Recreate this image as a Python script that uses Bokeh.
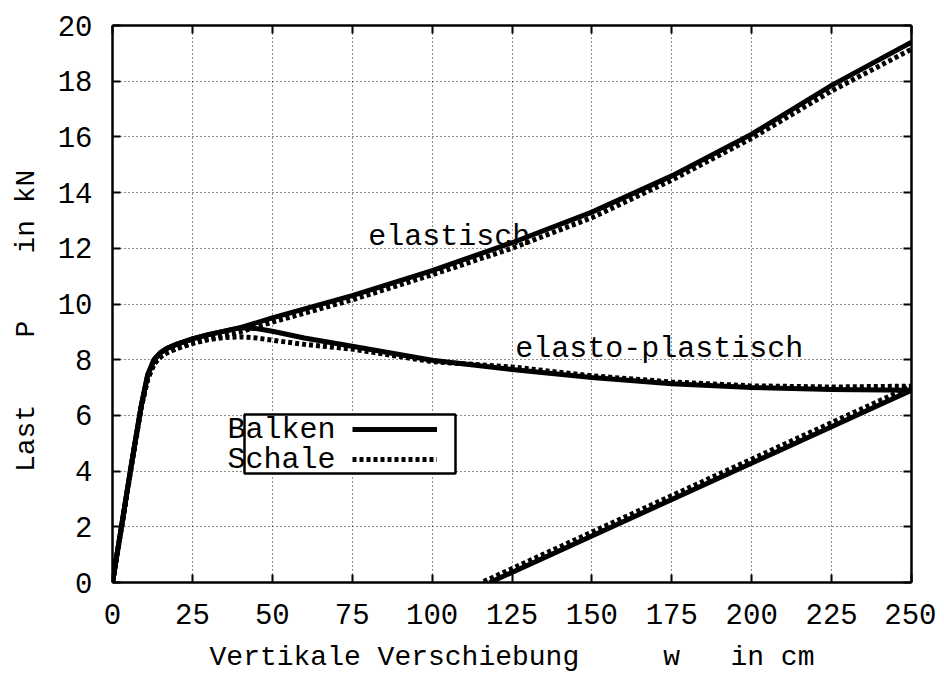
from bokeh.plotting import figure
from bokeh.models import (Range1d, FixedTicker, LinearAxis, Legend, LegendItem,
                          Label, BoxAnnotation)
from bokeh.embed import file_html
from bokeh.resources import INLINE

# ---------------- data ----------------
X_TICKS = [0, 25, 50, 75, 100, 125, 150, 175, 200, 225, 250]
Y_TICKS = [0, 2, 4, 6, 8, 10, 12, 14, 16, 18, 20]

# Balken (beam) - elastic
BALKEN_EL_W = [0, 3, 6, 9, 11, 13, 15, 17, 20, 25, 30, 40, 50, 75, 100, 125, 150, 175, 200, 225, 250]
BALKEN_EL_P = [0, 2.15, 4.3, 6.35, 7.45, 8.0, 8.25, 8.4, 8.55, 8.75, 8.9, 9.15, 9.5, 10.3, 11.2, 12.2, 13.3, 14.6, 16.1, 17.85, 19.4]

# Balken - elasto-plastic incl. unloading
BALKEN_PL_W = [0, 3, 6, 9, 11, 13, 15, 17, 20, 25, 30, 40, 45, 50, 60, 75, 100, 125, 150, 175, 200, 225, 250, 118]
BALKEN_PL_P = [0, 2.15, 4.3, 6.35, 7.45, 8.0, 8.25, 8.4, 8.55, 8.75, 8.9, 9.15, 9.12, 9.02, 8.78, 8.48, 7.98, 7.65, 7.36, 7.14, 7.0, 6.93, 6.9, 0]

# Schale (shell) - elastic
SCHALE_EL_W = [0, 3, 6, 9, 11, 13, 15, 17, 20, 25, 30, 40, 50, 75, 100, 125, 150, 175, 200, 225, 250]
SCHALE_EL_P = [0, 2.1, 4.25, 6.3, 7.3, 7.85, 8.1, 8.25, 8.4, 8.6, 8.75, 9.0, 9.35, 10.15, 11.05, 12.0, 13.1, 14.45, 15.95, 17.65, 19.15]

# Schale - elasto-plastic incl. unloading
SCHALE_PL_W = [0, 3, 6, 9, 11, 13, 15, 17, 20, 25, 30, 35, 40, 45, 50, 60, 75, 100, 125, 150, 175, 200, 225, 250, 115.5]
SCHALE_PL_P = [0, 2.1, 4.25, 6.3, 7.3, 7.85, 8.1, 8.25, 8.4, 8.58, 8.72, 8.8, 8.82, 8.78, 8.7, 8.55, 8.38, 7.93, 7.74, 7.42, 7.2, 7.06, 7.02, 7.05, 0]

SERIES_NAMES = ["Balken", "Schale"]
NB = "\u00a0"
X_LABEL = "Vertikale" + NB + "Verschiebung" + NB * 5 + "w" + NB * 3 + "in" + NB + "cm"
Y_LABEL = "Last" + NB * 4 + "P" + NB * 4 + "in" + NB + "kN" + NB * 2

FONT = "Liberation Mono"
FS_TICK = "29px"
FS_AXIS = "28px"
FS_TEXT = "30px"

p = figure(width=936, height=675, x_range=Range1d(0, 250), y_range=Range1d(0, 20),
           output_backend="svg", toolbar_location=None,
           min_border_left=112, min_border_right=25, min_border_top=25, min_border_bottom=93)
p.background_fill_color = "white"
p.border_fill_color = "white"
p.outline_line_color = None

# grid
p.xgrid.ticker = FixedTicker(ticks=X_TICKS)
p.ygrid.ticker = FixedTicker(ticks=Y_TICKS)
for g in (p.xgrid, p.ygrid):
    g.grid_line_color = "black"
    g.grid_line_dash = "1 3"
    g.grid_line_width = 1
    g.grid_line_alpha = 0.9


def style_axis(ax, ticks, show_labels=True):
    ax.ticker = FixedTicker(ticks=ticks)
    ax.axis_line_width = 2.5
    ax.axis_line_color = "black"
    ax.major_tick_in = 8
    ax.major_tick_out = 0
    ax.major_tick_line_width = 2
    ax.minor_tick_line_color = None
    ax.major_label_text_font = FONT
    if show_labels:
        ax.major_label_text_font_size = FS_TICK
        ax.major_label_text_color = "black"
    else:
        ax.major_label_text_font_size = "1px"
        ax.major_label_text_color = None
        ax.major_label_standoff = 0
    ax.axis_label_text_font = FONT
    ax.axis_label_text_font_size = FS_AXIS
    ax.axis_label_text_font_style = "normal"
    ax.axis_label_text_color = "black"


xa = p.xaxis[0]
ya = p.yaxis[0]
style_axis(xa, X_TICKS)
style_axis(ya, Y_TICKS)
xa.axis_label = X_LABEL
ya.axis_label = Y_LABEL
xa.major_label_standoff = 21
xa.axis_label_standoff = 15
ya.major_label_standoff = 20
ya.axis_label_standoff = 13

top_ax = LinearAxis()
style_axis(top_ax, X_TICKS, show_labels=False)
p.add_layout(top_ax, "above")
right_ax = LinearAxis()
style_axis(right_ax, Y_TICKS, show_labels=False)
p.add_layout(right_ax, "right")

# curves
r_b_el = p.line(BALKEN_EL_W, BALKEN_EL_P, line_width=5, line_color="black", line_join="miter")
r_b_pl = p.line(BALKEN_PL_W, BALKEN_PL_P, line_width=5, line_color="black", line_join="miter")
r_s_el = p.line(SCHALE_EL_W, SCHALE_EL_P, line_width=5, line_color="black", line_dash="4 3",
                line_join="miter")
r_s_pl = p.line(SCHALE_PL_W, SCHALE_PL_P, line_width=5, line_color="black", line_dash="4 3",
                line_join="miter")

# curve annotations
p.add_layout(Label(x=80, y=12.4, text="elastisch", text_font=FONT, text_font_size=FS_TEXT,
                   text_baseline="middle", text_align="left", text_color="black"))
p.add_layout(Label(x=126, y=8.4, text="elasto-plastisch", text_font=FONT, text_font_size=FS_TEXT,
                   text_baseline="middle", text_align="left", text_color="black"))

# key (gnuplot style: text left of sample)
box = BoxAnnotation(left=132, right=343, bottom=109, top=168,
                    left_units="screen", right_units="screen",
                    bottom_units="screen", top_units="screen",
                    fill_color="white", fill_alpha=1.0,
                    line_color="black", line_alpha=1.0, line_width=2.5)
p.add_layout(box)

legend = Legend(items=[LegendItem(label=" ", renderers=[r_b_el]),
                       LegendItem(label=" ", renderers=[r_s_el])],
                location=(240, 108), glyph_width=85, glyph_height=30, label_height=30,
                padding=0, spacing=0, margin=0, label_standoff=0,
                label_text_font_size="1px", border_line_alpha=0,
                background_fill_alpha=0)
p.add_layout(legend)

for name, yy in zip(SERIES_NAMES, [153, 123]):
    p.add_layout(Label(x=115, y=yy, x_units="screen", y_units="screen", text=name,
                       text_font=FONT, text_font_size=FS_TEXT, text_baseline="middle",
                       text_align="left", text_color="black"))

open("out.html", "w").write(file_html(p, INLINE))
